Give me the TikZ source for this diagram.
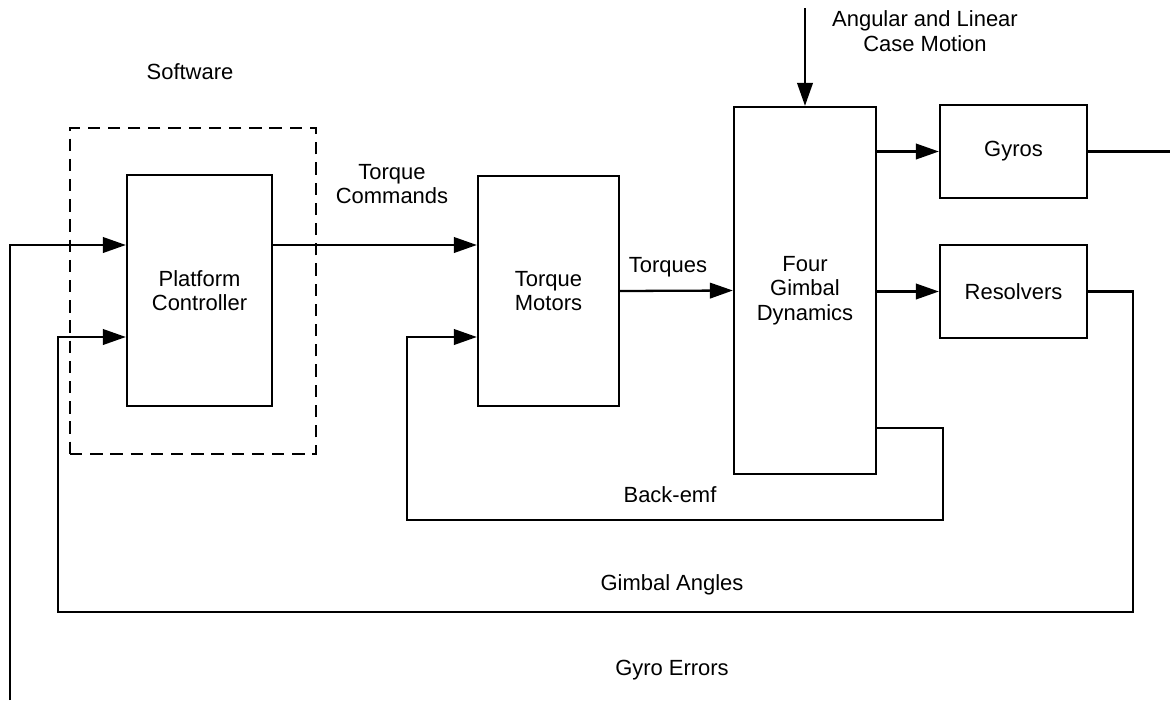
\documentclass[tikz,border=0pt]{standalone}
\usepackage{fontspec}
\setmainfont{Liberation Sans}
\usetikzlibrary{positioning,arrows.meta}

\begin{document}
\begin{tikzpicture}[x=0.02cm,y=-0.02cm,line width=1.3pt,font=\fontsize{12.5}{14}\selectfont,
  block/.style={draw,align=center,inner sep=0pt},
  sig/.style={-{Triangle[length=4.6mm,width=3.1mm]}}]
\useasboundingbox (0,0) rectangle (1170,700);
% Signal rows shared by the two inputs of each block
\coordinate (rowA) at (0,245);
\coordinate (rowB) at (0,337);
% Blocks
\node[draw,dashed,dash pattern=on 7pt off 4.5pt,minimum width=4.92cm,minimum height=6.52cm] (sw) at (193,291) {};
\node (swlabel) at (190,72) {Software};
\node[block,minimum width=2.9cm,minimum height=4.62cm] (pc) at (199.5,290.5) {Platform\\Controller};
\node[block,minimum width=2.82cm,minimum height=4.6cm] (tm) at (548.5,291) {Torque\\Motors};
\node[block,minimum width=2.84cm,minimum height=7.34cm] (gd) at (805,290.5) {Four\\Gimbal\\Dynamics};
\node[block,minimum width=2.94cm,minimum height=1.86cm] (gy) at (1013.5,151.5) {Gyros};
\node[block,minimum width=2.94cm,minimum height=1.86cm] (rs) at (1013.5,291.5) {Resolvers};
% Free ends of the open signals
\coordinate (caseIn) at (805,8);
\coordinate (gyOut) at (1170,151.5);
\coordinate (gyErr) at (10,700);
% Forward path
\draw[sig] (caseIn) -- (gd.north);
\draw[sig] (pc.east |- rowA) -- (tm.west |- rowA);
\draw[sig] (tm.east) -- (gd.west);
\draw[sig] (gd.east |- gy) -- (gy.west);
\draw[sig] (gd.east |- rs) -- (rs.west);
\draw (gy.east) -- (gyOut);
% Feedback loops
\draw[sig] (gd.east |- 0,428) -| (943,520) -| (407,337) -- (tm.west |- rowB);
\draw[sig] (rs.east) -| (1133,612) -| (58,337) -- (pc.west |- rowB);
\draw[sig] (gyErr) |- (pc.west |- rowA);
% Signal labels
\node[align=center] (lblCase) at (925,31) {Angular and Linear\\Case Motion};
\node[align=center] (lblCmd) at (392,184) {Torque\\Commands};
\node (lblTq) at (668,267) {Torques};
\node (lblEmf) at (670,495) {Back-emf};
\node (lblAng) at (672,585) {Gimbal Angles};
\node (lblErr) at (672,670) {Gyro Errors};
\end{tikzpicture}
\end{document}
